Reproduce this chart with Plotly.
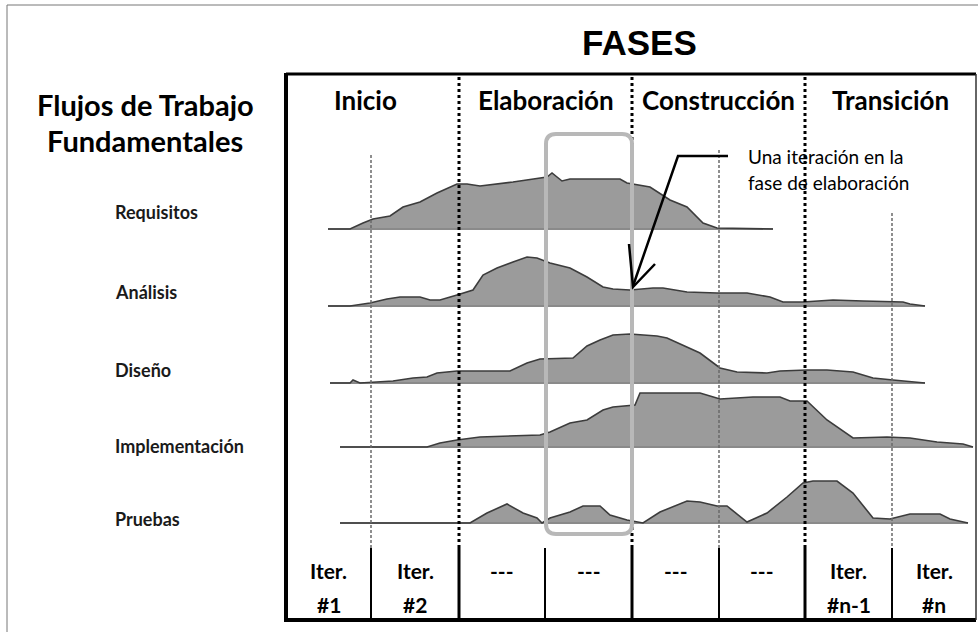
import plotly.graph_objects as go

# ---------------- data ----------------
phases = ["Inicio", "Elaboración", "Construcción", "Transición"]
workflows = ["Requisitos", "Análisis", "Diseño", "Implementación", "Pruebas"]
iter_top = ["Iter.", "Iter.", "---", "---", "---", "---", "Iter.", "Iter."]
iter_bottom = ["#1", "#2", "", "", "", "", "#n-1", "#n"]

# effort profiles (time position, effort height)
req_x = [328, 350, 363, 373, 390, 403, 420, 437, 457, 467, 480, 513, 547, 552, 562, 570, 620, 627, 650, 670, 687, 697, 703, 717, 773]
req_h = [0, 0, 6, 10, 13, 22, 27, 36, 45, 45, 43, 47, 52, 56, 48, 50, 50, 46, 42, 29, 22, 12, 6, 1, 0]

ana_x = [328, 350, 370, 387, 400, 420, 430, 440, 457, 473, 483, 497, 513, 527, 537, 550, 570, 587, 603, 613, 630, 653, 663, 687, 717, 747, 770, 783, 803, 833, 863, 903, 910, 925]
ana_h = [0, 0, 3, 7, 9, 9, 6, 6, 11, 16, 31, 38, 44, 49, 48, 43, 38, 29, 19, 17, 16, 18, 18, 14, 13, 13, 9, 4, 4, 6, 5, 4, 2, 0]

dis_x = [330, 350, 353, 360, 393, 413, 427, 437, 457, 510, 527, 540, 573, 587, 600, 613, 630, 657, 667, 700, 720, 737, 767, 780, 807, 827, 853, 873, 893, 925]
dis_h = [0, 0, 3, 0, 2, 5, 6, 10, 12, 12, 20, 24, 25, 37, 43, 48, 49, 47, 45, 30, 15, 11, 10, 12, 13, 13, 11, 5, 3, 0]

imp_x = [340, 427, 440, 457, 480, 513, 540, 550, 570, 587, 603, 613, 630, 635, 640, 700, 720, 753, 780, 790, 807, 827, 853, 887, 910, 937, 963, 973]
imp_h = [0, 0, 4, 7, 10, 11, 12, 15, 24, 27, 37, 40, 41, 42, 54, 54, 48, 50, 50, 46, 46, 27, 9, 10, 9, 5, 3, 0]

pru_x = [340, 470, 487, 507, 523, 537, 542, 550, 570, 583, 600, 610, 627, 643, 660, 687, 700, 717, 727, 747, 767, 787, 803, 813, 837, 853, 873, 890, 910, 940, 950, 968]
pru_h = [0, 0, 10, 19, 10, 5, 0, 5, 11, 17, 17, 8, 3, 0, 11, 22, 21, 17, 17, 1, 10, 26, 40, 42, 42, 30, 5, 4, 9, 9, 4, 0]

profiles = [(req_x, req_h), (ana_x, ana_h), (dis_x, dis_h), (imp_x, imp_h), (pru_x, pru_h)]

# ---------------- layout geometry ----------------
W, H = 978, 632
baselines = [229, 306, 383, 447, 523]
edges = [286, 371, 459, 545, 632, 719, 805, 892, 976]
phase_idx = [0, 2, 4, 6, 8]
phase_label_x = [365, 546, 718, 890]
box_top, box_bottom, row_top = 74, 620, 548

CAL = "Lato, 'Open Sans', sans-serif"
FILL = "#9b9b9b"
EDGE = "#3c3c3c"

fig = go.Figure()

for (xs, hs), base in zip(profiles, baselines):
    fig.add_trace(go.Scatter(x=[xs[0], xs[-1]], y=[base, base], mode="lines",
                             line=dict(color="#8a8a8a", width=2), hoverinfo="skip",
                             showlegend=False))
    fig.add_trace(go.Scatter(x=xs, y=[base - h for h in hs], mode="lines",
                             fill="tonexty", fillcolor=FILL,
                             line=dict(color=EDGE, width=1.6), hoverinfo="skip",
                             showlegend=False))

shapes = []
# outer frame (top + left visible)
shapes.append(dict(type="line", x0=7, x1=W, y0=5, y1=5, line=dict(color="#777", width=1)))
shapes.append(dict(type="line", x0=7, x1=7, y0=5, y1=H, line=dict(color="#777", width=1)))

# light iteration separators in upper area
for xv, y0 in [(371, 155), (719, 150), (892, 213)]:
    shapes.append(dict(type="line", x0=xv, x1=xv, y0=y0, y1=row_top,
                       line=dict(color="#6a6a6a", width=1.5, dash="3px,2px")))

# phase separators (dotted)
for k in phase_idx[1:-1]:
    xv = edges[k]
    shapes.append(dict(type="line", x0=xv, x1=xv, y0=box_top + 3, y1=row_top,
                       line=dict(color="black", width=3, dash="dot")))

# iteration row separators (solid)
for k in range(1, 8):
    xv = edges[k]
    w = 3 if k in phase_idx else 2
    shapes.append(dict(type="line", x0=xv, x1=xv, y0=row_top, y1=box_bottom,
                       line=dict(color="black", width=w)))

# main box
shapes.append(dict(type="line", x0=edges[0], x1=edges[-1], y0=box_top, y1=box_top,
                   line=dict(color="black", width=3)))
shapes.append(dict(type="line", x0=edges[0] - 1, x1=edges[-1], y0=box_bottom, y1=box_bottom,
                   line=dict(color="black", width=4)))
shapes.append(dict(type="line", x0=edges[0], x1=edges[0], y0=box_top - 1, y1=box_bottom + 2,
                   line=dict(color="black", width=4)))
shapes.append(dict(type="line", x0=edges[-1], x1=edges[-1], y0=box_top, y1=box_bottom,
                   line=dict(color="#333", width=1.5)))

# highlighted iteration (rounded rectangle)
x0, x1, y0, y1, r = 546, 632, 134, 534, 10
path = (f"M {x0+r},{y0} L {x1-r},{y0} Q {x1},{y0} {x1},{y0+r} L {x1},{y1-r} "
        f"Q {x1},{y1} {x1-r},{y1} L {x0+r},{y1} Q {x0},{y1} {x0},{y1-r} "
        f"L {x0},{y0+r} Q {x0},{y0} {x0+r},{y0} Z")
shapes.append(dict(type="path", path=path, line=dict(color="#b8b8b8", width=4), layer="above"))

# callout arrow
shapes.append(dict(type="path", path="M 728,156 L 678,156 L 633,286",
                   line=dict(color="black", width=2.5), layer="above"))
shapes.append(dict(type="path", path="M 629,244 L 633,287 L 655,264",
                   line=dict(color="black", width=2.5), layer="above"))

ann = []
ann.append(dict(x=639, y=42, text="FASES", showarrow=False,
                font=dict(family="Liberation Sans, Arial, sans-serif", size=35, color="black", weight="bold")))
ann.append(dict(x=145, y=104, text="Flujos de Trabajo", showarrow=False,
                font=dict(family=CAL, size=29, color="black", weight="bold")))
ann.append(dict(x=145, y=140, text="Fundamentales", showarrow=False,
                font=dict(family=CAL, size=29, color="black", weight="bold")))
for name, yv in zip(workflows, [212, 292, 370, 446, 519]):
    ann.append(dict(x=113, y=yv, text=name, showarrow=False, xanchor="left",
                    font=dict(family=CAL, size=18, color="#1a1a1a", weight="bold")))
for name, xc in zip(phases, phase_label_x):
    ann.append(dict(x=xc, y=100, text=name, showarrow=False,
                    font=dict(family=CAL, size=26, color="black", weight="bold")))
for i in range(8):
    xc = (edges[i] + edges[i + 1]) / 2
    ann.append(dict(x=xc, y=570, text=iter_top[i], showarrow=False,
                    font=dict(family=CAL, size=21, color="black", weight="bold")))
    if iter_bottom[i]:
        ann.append(dict(x=xc, y=604, text=iter_bottom[i], showarrow=False,
                        font=dict(family=CAL, size=21, color="black", weight="bold")))
ann.append(dict(x=746, y=156, text="Una iteración en la", showarrow=False, xanchor="left",
                font=dict(family=CAL, size=19, color="black")))
ann.append(dict(x=746, y=182, text="fase de elaboración", showarrow=False, xanchor="left",
                font=dict(family=CAL, size=19, color="black")))

for a in ann:
    a.update(xref="x", yref="y")

fig.update_layout(
    width=W, height=H,
    margin=dict(l=0, r=0, t=0, b=0, pad=0),
    paper_bgcolor="white", plot_bgcolor="white",
    xaxis=dict(range=[0, W], visible=False, fixedrange=True),
    yaxis=dict(range=[H, 0], visible=False, fixedrange=True),
    shapes=shapes, annotations=ann, showlegend=False,
)

fig.write_html("out.html", config={"displayModeBar": False},
               post_script="document.body.style.margin='0';document.body.style.overflow='hidden';")
